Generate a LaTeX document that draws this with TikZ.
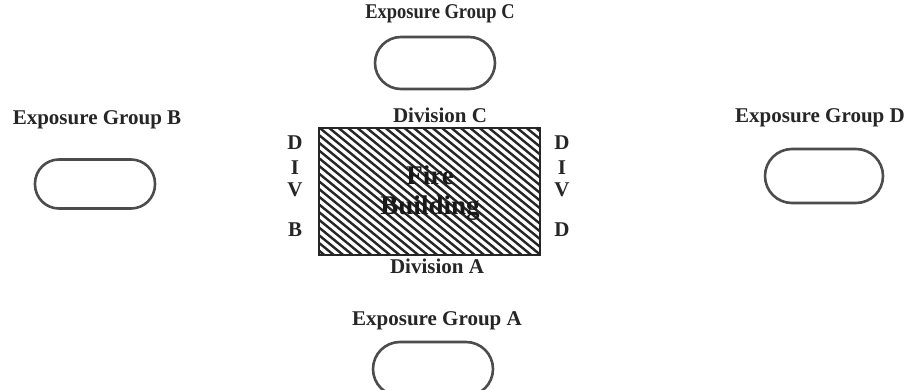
\documentclass[tikz,border=0pt]{standalone}
\usepackage{fontspec}
\setmainfont{Liberation Serif}
\begin{document}
\begin{tikzpicture}[x=1pt,y=-1pt,
  lbl/.style={text=black!85, font=\bfseries\fontsize{21}{23}\selectfont, inner sep=0pt},
  divlbl/.style={text=black!85, font=\bfseries\fontsize{21}{23}\selectfont, inner sep=0pt},
  oval/.style={draw=black!70, line width=2.6pt, rounded corners=26pt, minimum width=120pt, minimum height=52pt, inner sep=0pt},
  hatch/.style={line width=2.4pt, black!85}
]
\useasboundingbox (0,0) rectangle (909,390);
\clip (0,0) rectangle (909,390);

% Exposure groups
\node[lbl] (egc) at (440,14) {\scalebox{0.88}[1]{Exposure Group C}};
\node[oval] (ovc) at (435,63) {};
\node[lbl] (egb) at (97,120) {Exposure Group B};
\node[oval, minimum height=49pt, rounded corners=24pt] (ovb) at (95,184) {};
\node[lbl] (egd) at (820,118) {Exposure Group D};
\node[oval, minimum width=118pt, minimum height=54pt, rounded corners=27pt] (ovd) at (824,176) {};
\node[lbl] (ega) at (437,321) {Exposure Group A};
\node[oval, minimum height=54pt, rounded corners=27pt] (ova) at (433,369) {};

% Fire building
\begin{scope}
  \clip (319,128) rectangle (540,255);
  \foreach \k in {0,...,45} {
    \draw[hatch] (160+\k*9.4,128) -- ++(155,127);
  }
\end{scope}
\node[draw=black!85, line width=2.6pt, minimum width=221pt, minimum height=127pt, inner sep=0pt] (fire) at (429.5,191.5) {};
\node[text=black!90, font=\bfseries\fontsize{27}{30}\selectfont, align=center, inner sep=0pt] (firetext) at (430,193) {Fire\\Building};

% Division labels
\node[divlbl] (divc) at (440,115) {Division C};
\node[divlbl] (diva) at (437,266) {Division A};
\node[divlbl] (b1) at (295,143) {D};
\node[divlbl] (b2) at (295,168) {I};
\node[divlbl] (b3) at (295,190) {V};
\node[divlbl] (b4) at (295,230) {B};
\node[divlbl] (d1) at (562,143) {D};
\node[divlbl] (d2) at (562,168) {I};
\node[divlbl] (d3) at (562,190) {V};
\node[divlbl] (d4) at (562,230) {D};
\end{tikzpicture}
\end{document}
